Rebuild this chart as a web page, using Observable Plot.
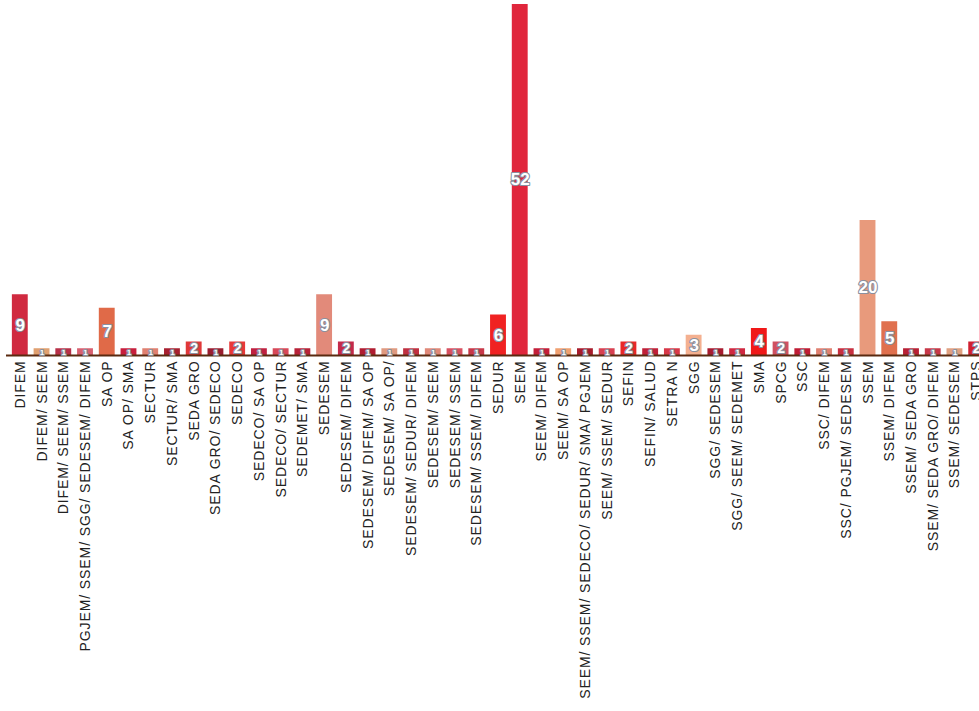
<!DOCTYPE html>
<html>
<head>
<meta charset="utf-8">
<script src="https://cdn.jsdelivr.net/npm/d3@7"></script>
<script src="https://cdn.jsdelivr.net/npm/@observablehq/plot@0.6"></script>
<style>
  html, body { margin: 0; padding: 0; background: #fff; overflow: hidden; }
  #chart { width: 1000px; }
  #chart svg { display: block; max-width: none !important; width: 1000px !important; height: 711px !important; }
</style>
</head>
<body>
<div id="chart"></div>
<script>
const categories = [
  "DIFEM", "DIFEM/ SEEM", "DIFEM/ SEEM/ SSEM", "PGJEM/ SSEM/ SGG/ SEDESEM/ DIFEM",
  "SA OP", "SA OP/ SMA", "SECTUR", "SECTUR/ SMA", "SEDA GRO", "SEDA GRO/ SEDECO",
  "SEDECO", "SEDECO/ SA OP", "SEDECO/ SECTUR", "SEDEMET/ SMA", "SEDESEM",
  "SEDESEM/ DIFEM", "SEDESEM/ DIFEM/ SA OP", "SEDESEM/ SA OP/", "SEDESEM/ SEDUR/ DIFEM",
  "SEDESEM/ SEEM", "SEDESEM/ SSEM", "SEDESEM/ SSEM/ DIFEM", "SEDUR", "SEEM",
  "SEEM/ DIFEM", "SEEM/ SA OP", "SEEM/ SSEM/ SEDECO/ SEDUR/ SMA/ PGJEM", "SEEM/ SSEM/ SEDUR",
  "SEFIN", "SEFIN/ SALUD", "SETRA N", "SGG", "SGG/ SEDESEM", "SGG/ SEEM/ SEDEMET",
  "SMA", "SPCG", "SSC", "SSC/ DIFEM", "SSC/ PGJEM/ SEDESEM", "SSEM", "SSEM/ DIFEM",
  "SSEM/ SEDA GRO", "SSEM/ SEDA GRO/ DIFEM", "SSEM/ SEDESEM", "STPS"
];
const counts = [
  9, 1, 1, 1,
  7, 1, 1, 1, 2, 1,
  2, 1, 1, 1, 9,
  2, 1, 1, 1,
  1, 1, 1, 6, 52,
  1, 1, 1, 1,
  2, 1, 1, 3, 1, 1,
  4, 2, 1, 1, 1, 20, 5,
  1, 1, 1, 2
];
const barColors = [
  "#d02a40", "#e0a070", "#b83048", "#d86070",
  "#e06a48", "#c81e3c", "#e08070", "#a82030", "#e03838", "#9a1e30",
  "#e83838", "#c02040", "#d84858", "#b82238", "#e28a7a",
  "#c42a4a", "#b01c30", "#e09a80", "#c03040",
  "#e08878", "#d85060", "#c83848", "#f02222", "#e0263c",
  "#c41e38", "#f0a070", "#a81c2c", "#d84050",
  "#e82828", "#c02038", "#d83848", "#f4b090", "#a81c30", "#d02840",
  "#f01818", "#d05060", "#c01c34", "#e08070", "#c83040", "#e89a7c", "#e0704e",
  "#b82034", "#c83848", "#e0a080", "#d02030"
];

const data = categories.map((c, i) => ({cat: c, n: counts[i]}));

const chart = Plot.plot({
  width: 1000,
  height: 711,
  marginLeft: 6,
  marginRight: 10,
  marginTop: 4,
  marginBottom: 356,
  style: {fontFamily: "'Liberation Sans', Arial, sans-serif", background: "#fff", maxWidth: "none"},
  x: {domain: categories, padding: 0.27, label: null, tickSize: 0, tickPadding: 5, tickRotate: -90},
  y: {domain: [0, 52], axis: null},
  color: {type: "ordinal", domain: categories, range: barColors},
  marks: [
    Plot.barY(data, {x: "cat", y: "n", fill: "cat"}),
    Plot.ruleY([0], {stroke: "#5a2a10", strokeWidth: 2}),
    Plot.text(data, {
      x: "cat", y: d => d.n / 2, text: d => String(d.n),
      fill: "white", stroke: "#8a90a0", strokeWidth: 2.2, paintOrder: "stroke",
      fontWeight: "bold", fontSize: d => d.n === 1 ? 8 : d.n === 2 ? 14 : 17,
      fontFamily: "'Liberation Sans', Arial, sans-serif"
    })
  ]
});

d3.select(chart).selectAll("[aria-label='x-axis tick label'] text")
  .attr("font-size", 14).attr("fill", "#222").style("letter-spacing", "0.9px");
d3.select(chart).select("[aria-label='x-axis tick label']")
  .attr("font-size", 14).attr("fill", "#222");

document.getElementById("chart").appendChild(chart);
</script>
</body>
</html>
